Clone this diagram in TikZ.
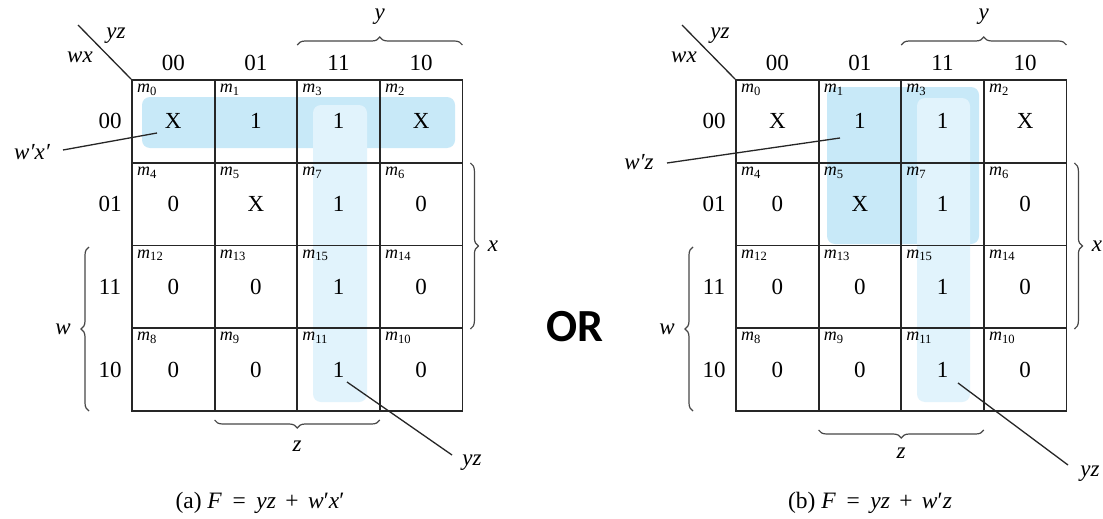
\documentclass[tikz,border=0pt]{standalone}
\usepackage{fontspec}
\setmainfont{Liberation Serif}
\newfontfamily\orfont{Carlito}
\usetikzlibrary{decorations.pathreplacing}
\definecolor{bandA}{HTML}{C8E9F8}
\definecolor{bandB}{HTML}{E1F3FC}
\definecolor{gridc}{HTML}{262626}
\definecolor{bracec}{HTML}{474747}
\begin{document}
\begin{tikzpicture}[x=1pt,y=-1pt,
  cell/.style={draw=gridc, line width=1.8pt, minimum width=82.6pt, minimum height=82.75pt, inner sep=0pt, font=\fontsize{23}{23}\selectfont},
  mlab/.style={anchor=north west, inner sep=0pt, font=\fontsize{18}{18}\selectfont},
  hdr/.style={inner sep=0pt, font=\fontsize{23}{23}\selectfont},
  var/.style={inner sep=0pt, font=\fontsize{23}{23}\selectfont\itshape},
  captxt/.style={inner sep=0pt, font=\fontsize{23.5}{23.5}\selectfont},
  brc/.style={draw=bracec, line width=1.2pt, decorate, decoration={brace, amplitude=8pt}},
  lead/.style={draw=black!85, line width=1.3pt},
  bandbig/.style={fill=bandA, rounded corners=8pt},
  bandsmall/.style={fill=bandB, rounded corners=8pt}]
\useasboundingbox (0,0) rectangle (1103,519);
\fill[white] (0,0) rectangle (1103,519);

% ---------- shading ----------
\fill[bandbig] (142,97) rectangle (455,148);
\fill[bandsmall] (313,105) rectangle (367,402);
\fill[bandbig] (827,87) rectangle (979,244);
\fill[bandsmall] (917,98) rectangle (970,402);

% ---------- grids ----------
\foreach \p/\ox in {a/132,b/736}{
  \foreach \m/\r/\c/\v in {0/0/0/X,1/0/1/1,3/0/2/1,2/0/3/X,4/1/0/0,5/1/1/X,7/1/2/1,6/1/3/0,12/2/0/0,13/2/1/0,15/2/2/1,14/2/3/0,8/3/0/0,9/3/1/0,11/3/2/1,10/3/3/0}{
    \node[cell] (\p\m) at ({\ox+82.6*(\c+0.5)},{80+82.75*(\r+0.5)}) {\v};
    \node[mlab] (\p\m l) at ({\ox+82.6*\c+5},{80+82.75*\r+4}) {\textit{m}\textsubscript{\m}};
  }
  \foreach \k/\t in {0/00,1/01,2/11,3/10}{
    \node[hdr] (\p col\k) at ({\ox+82.6*(\k+0.5)},63) {\t};
    \node[hdr] (\p row\k) at ({\ox-22},{80+82.75*(\k+0.5)}) {\t};
  }
  \coordinate (\p diag) at ({\ox-54},25);
  \draw[lead] (\p diag) -- (\p0.north west);
  \node[var] (\p yz) at ({\ox-16},36) {yz};
  \node[var] (\p wx) at ({\ox-52},57) {wx};
  % y brace
  \coordinate (\p yb1) at ({\ox+165.2},45);
  \coordinate (\p yb2) at ({\ox+330.4},45);
  \draw[brc] (\p yb1) -- (\p yb2);
  \node[var] (\p y) at ({\ox+247.8},17) {y};
  % x brace
  \coordinate (\p xb1) at ({\ox+338.4},163);
  \coordinate (\p xb2) at ({\ox+338.4},329);
  \draw[brc] (\p xb1) -- (\p xb2);
  \node[var] (\p x) at ({\ox+361},246) {x};
  % w brace
  \coordinate (\p wb1) at ({\ox-43},411);
  \coordinate (\p wb2) at ({\ox-43},247);
  \draw[brc] (\p wb1) -- (\p wb2);
  \node[var] (\p w) at ({\ox-69},329) {w};
}

% z braces
\coordinate (azb1) at (379.8,420);
\coordinate (azb2) at (214.6,420);
\draw[brc] (azb1) -- (azb2);
\node[var] (az) at (297,446) {z};
\coordinate (bzb1) at (983.8,430);
\coordinate (bzb2) at (818.6,430);
\draw[brc] (bzb1) -- (bzb2);
\node[var] (bz) at (901,453) {z};

% leader lines (a)
\node[var] (awxl) at (32,152) {w′x′};
\coordinate (awxs) at (157,133);
\coordinate (awxe) at (63,150);
\draw[lead] (awxs) -- (awxe);
\coordinate (ayzs) at (347,382);
\coordinate (ayze) at (452,455);
\draw[lead] (ayzs) -- (ayze);
\node[var] (ayzl) at (472,463) {yz};

% leader lines (b)
\node[var] (bwzl) at (639,162) {w′z};
\coordinate (bwzs) at (840,138);
\coordinate (bwze) at (667,163);
\draw[lead] (bwzs) -- (bwze);
\coordinate (byzs) at (958,383);
\coordinate (byze) at (1068,465);
\draw[lead] (byzs) -- (byze);
\node[var] (byzl) at (1090,474) {yz};

% captions
\node[captxt] (capa) at (260,503) {(a) \textit{F}\hspace{0.45em}=\hspace{0.45em}\textit{yz}\hspace{0.4em}+\hspace{0.4em}\textit{w}′\textit{x}′};
\node[captxt] (capb) at (870,503) {(b) \textit{F}\hspace{0.45em}=\hspace{0.45em}\textit{yz}\hspace{0.4em}+\hspace{0.4em}\textit{w}′\textit{z}};

% OR
\node[inner sep=0pt, font=\orfont\bfseries\fontsize{46}{46}\selectfont] (or) at (575,327) {OR};
\end{tikzpicture}
\end{document}
